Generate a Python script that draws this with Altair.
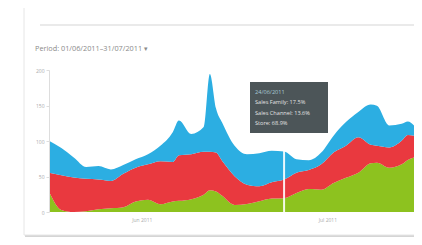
import altair as alt
import pandas as pd

dates = ["2011-05-17", "2011-05-19", "2011-05-21", "2011-05-23", "2011-05-25", "2011-05-27",
         "2011-05-29", "2011-05-31", "2011-06-02", "2011-06-04", "2011-06-06", "2011-06-07",
         "2011-06-09", "2011-06-11", "2011-06-12", "2011-06-13", "2011-06-14", "2011-06-16",
         "2011-06-18", "2011-06-20", "2011-06-22", "2011-06-24", "2011-06-26", "2011-06-28",
         "2011-06-30", "2011-07-02", "2011-07-04", "2011-07-06", "2011-07-08", "2011-07-09",
         "2011-07-11", "2011-07-13", "2011-07-14", "2011-07-15"]
store = [29.0, 2.9, 0, 1.0, 3.8, 5.2, 6.7, 14.8, 17.1, 10.9, 14.8, 15.7, 18.1, 24.3, 30.5, 29.0,
         22.8, 10.0, 11.4, 15.2, 19.0, 19.5, 26.7, 32.4, 31.4, 40.9, 48.1, 55.2, 68.5, 69.5,
         62.4, 67.1, 73.3, 76.6]
channel = [26.2, 49.0, 48.6, 45.7, 41.9, 38.6, 47.1, 47.6, 50.0, 60.5, 55.7, 64.3, 63.3, 60.5,
           54.3, 54.7, 49.0, 40.5, 27.1, 20.9, 22.8, 26.2, 28.6, 26.7, 35.7, 42.8, 45.2, 50.0,
           26.2, 23.8, 28.6, 33.3, 35.2, 30.9]
family = [45.2, 38.1, 28.1, 16.7, 19.0, 16.2, 12.4, 11.9, 14.3, 21.9, 41.9, 49.0, 28.6, 34.8,
          109.5, 61.9, 53.8, 42.8, 42.8, 46.6, 44.3, 39.5, 19.0, 13.8, 16.7, 23.8, 33.3, 35.7,
          56.6, 56.2, 30.9, 23.8, 19.0, 14.3]
series = ["Store", "Sales Channel", "Sales Family"]
colors = ["#8dc21f", "#e9393f", "#2caee2"]
y_ticks = [0, 50, 100, 150, 200]
title_text = "Period: 01/06/2011\u201331/07/2011 \u25be"
cursor_date = ["2011-06-24"]
tooltip_lines = ["24/06/2011", "Sales Family: 17.5%", "Sales Channel: 13.6%", "Store: 68.9%"]
tooltip_colors = ["#a9c9d6", "#e2e2e2", "#e2e2e2", "#e2e2e2"]

rows = []
for i, d in enumerate(dates):
    for k, (name, vals) in enumerate(zip(series, [store, channel, family])):
        rows.append({"date": d, "series": name, "value": vals[i], "order": k})
df = pd.DataFrame(rows)

one = pd.DataFrame({"a": [0]})
FONT = "Open Sans"

shadow = alt.Chart(one).mark_rect(fill="#d5d5d5").encode(
    x=alt.value(-24), x2=alt.value(372), y=alt.value(-62), y2=alt.value(167))
card = alt.Chart(one).mark_rect(fill="white", stroke="#e6e6e6", strokeWidth=1).encode(
    x=alt.value(-25), x2=alt.value(372), y=alt.value(-64), y2=alt.value(165))
header = alt.Chart(one).mark_rule(color="#e3e3e3", strokeWidth=1.5).encode(
    x=alt.value(-9), x2=alt.value(372), y=alt.value(-45))
title = alt.Chart(one).mark_text(align="left", baseline="middle", fontSize=7.3,
                                 color="#8a8a8a", font=FONT, text=title_text).encode(
    x=alt.value(-14), y=alt.value(-21))

area = alt.Chart(df).mark_area(interpolate="monotone").encode(
    x=alt.X("date:T", scale=alt.Scale(domain=["2011-05-17", "2011-07-15"]),
            axis=alt.Axis(title=None, format="%b %Y", tickCount="month", grid=False,
                          domain=False, ticks=False, labelFontSize=5, labelColor="#aaaaaa",
                          labelPadding=5, labelFont=FONT, zindex=1)),
    y=alt.Y("value:Q", stack="zero", scale=alt.Scale(domain=[0, 200], nice=False),
            axis=alt.Axis(title=None, values=y_ticks, grid=False, labelFontSize=5,
                          labelColor="#aaaaaa", domainColor="#dddddd", tickColor="#dddddd",
                          tickSize=3, labelPadding=2, labelFont=FONT, zindex=1)),
    color=alt.Color("series:N", scale=alt.Scale(domain=series, range=colors), legend=None),
    order=alt.Order("order:Q"),
)

cursor = alt.Chart(pd.DataFrame({"date": cursor_date})).mark_rule(
    color="white", strokeWidth=2, opacity=0.9).encode(
    x="date:T", y=alt.value(-2), y2=alt.value(142))

tip_box = alt.Chart(one).mark_rect(fill="#4c5558").encode(
    x=alt.value(201), x2=alt.value(279), y=alt.value(12), y2=alt.value(63))
tip_df = pd.DataFrame({"line": tooltip_lines, "idx": [0, 1, 2, 3], "col": tooltip_colors})
tip_text = alt.Chart(tip_df).mark_text(align="left", baseline="middle", fontSize=5.6,
                                       font=FONT).encode(
    x=alt.value(206),
    y=alt.Y("idx:Q", scale=alt.Scale(domain=[0, 3], range=[22, 53]), axis=None),
    text="line:N",
    color=alt.Color("col:N", scale=None),
)

chart = alt.layer(shadow, card, header, title, area, cursor, tip_box, tip_text).resolve_scale(
    y="independent"
).properties(
    width=365, height=142,
    autosize=alt.AutoSizeParams(type="none"),
    padding={"left": 41, "top": 62, "right": 0, "bottom": 25},
    background="white",
).configure_view(stroke=None)

chart.save("out.html", embed_options={"renderer": "svg", "actions": False})
